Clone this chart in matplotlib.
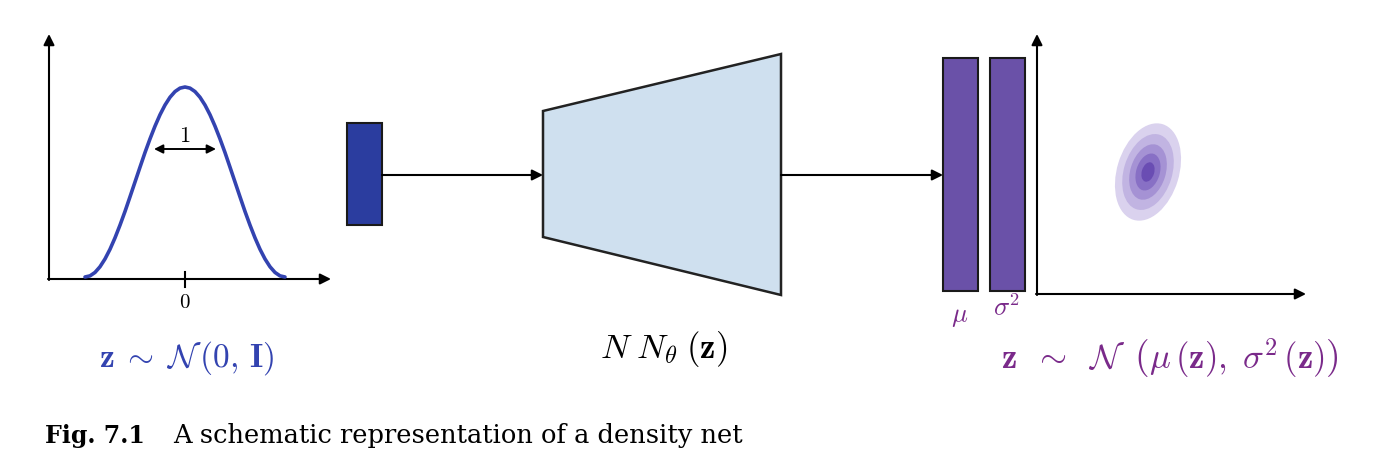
import matplotlib
matplotlib.use("Agg")
import matplotlib.pyplot as plt
from matplotlib.patches import Rectangle, Polygon, Ellipse

plt.rcParams['mathtext.fontset'] = 'cm'

# ---- data ----
curve_t = [-1.0, -0.95, -0.9, -0.85, -0.8, -0.75, -0.7, -0.65, -0.6, -0.55, -0.5,
           -0.45, -0.4, -0.35, -0.3, -0.25, -0.2, -0.15, -0.1, -0.05, 0.0,
           0.05, 0.1, 0.15, 0.2, 0.25, 0.3, 0.35, 0.4, 0.45, 0.5,
           0.55, 0.6, 0.65, 0.7, 0.75, 0.8, 0.85, 0.9, 0.95, 1.0]
curve_h = [0.0, 0.006, 0.024, 0.054, 0.095, 0.146, 0.206, 0.273, 0.345, 0.422, 0.5,
           0.578, 0.655, 0.727, 0.794, 0.854, 0.905, 0.946, 0.976, 0.994, 1.0,
           0.994, 0.976, 0.946, 0.905, 0.854, 0.794, 0.727, 0.655, 0.578, 0.5,
           0.422, 0.345, 0.273, 0.206, 0.146, 0.095, 0.054, 0.024, 0.006, 0.0]
tick_label = "0"
width_label = "1"
input_label = r"$\mathbf{z}\;\sim\;\mathcal{N}\,(0,\,\mathbf{I})$"
net_label = r"$N\;N_{\theta}\;(\mathbf{z})$"
output_label = (r"$\mathbf{z}\;\;\sim\;\;\mathcal{N}\;\;\left(\mu\,(\mathbf{z}),\;"
                r"\sigma^{2}\,(\mathbf{z})\right)$")
bar_labels = [r"$\mu$", r"$\sigma^2$"]
caption_bold = "Fig. 7.1"
caption_text = "A schematic representation of a density net"
ellipse_scales = [1.0, 0.78, 0.57, 0.38, 0.2]
ellipse_colors = ['#dad2ee', '#c1b4e2', '#a592d4', '#8870c5', '#6a4db3']

BLUE = '#3343b0'
PURPLE_TXT = '#7a2a8a'
PURPLE_BAR = '#6a51a8'

fig = plt.figure(figsize=(13.82, 4.66), dpi=100)
ax = fig.add_axes([0, 0, 1, 1])
ax.set_xlim(0, 1382)
ax.set_ylim(466, 0)
ax.axis('off')

def arrow(p_from, p_to, style='-|>', lw=1.5, ms=16):
    ax.annotate("", xy=p_to, xytext=p_from,
                arrowprops=dict(arrowstyle=style, lw=lw, color='black',
                                mutation_scale=ms, shrinkA=0, shrinkB=0))

# left panel axes
arrow((49, 280), (49, 34))
arrow((48, 279), (331, 279))
axc = fig.add_axes([85 / 1382, (466 - 277) / 466, 200 / 1382, 190 / 466])
axc.set_xlim(-1, 1)
axc.set_ylim(0, 1)
axc.axis('off')
axc.plot(curve_t, curve_h, color=BLUE, lw=2.6, clip_on=False, solid_capstyle='round')
ax.plot([185, 185], [272, 287], color='black', lw=1.5)
ax.text(185, 302, r"$%s$" % tick_label, ha='center', va='center', fontsize=15)
arrow((154, 149), (216, 149), style='<|-|>', lw=1.4, ms=13)
ax.text(185, 136, r"$%s$" % width_label, ha='center', va='center', fontsize=16)
ax.text(187, 358, input_label, ha='center', va='center', fontsize=24, color=BLUE)

# input block
ax.add_patch(Rectangle((347, 123), 35, 102, fc='#2b3d9f', ec='#1a1a1a', lw=1.5))
arrow((382, 175), (543, 175))

# network trapezoid
ax.add_patch(Polygon([(543, 111), (781, 54), (781, 295), (543, 237)],
                     closed=True, fc='#cfe0ef', ec='#222222', lw=1.8))
ax.text(664, 349, net_label, ha='center', va='center', fontsize=25, color='black')
arrow((781, 175), (943, 175))

# output bars
for x0, lab, ly in zip([943, 990], bar_labels, [316, 309]):
    ax.add_patch(Rectangle((x0, 58), 35, 233, fc=PURPLE_BAR, ec='#1a1a1a', lw=1.5))
    ax.text(x0 + 17, ly, lab, ha='center', va='center', fontsize=19, color=PURPLE_TXT)

# right panel axes
arrow((1037, 295), (1037, 34))
arrow((1036, 294), (1306, 294))
for s, c in zip(ellipse_scales, ellipse_colors):
    ax.add_patch(Ellipse((1148, 172), 62 * s, 100 * s, angle=17, fc=c, ec='none'))
ax.text(1170, 358, output_label, ha='center', va='center', fontsize=25, color=PURPLE_TXT)

# caption
ax.text(45, 443, caption_bold, fontfamily='DejaVu Serif', fontweight='bold',
        fontsize=17, va='baseline', ha='left')
ax.text(173, 443, caption_text, fontfamily='DejaVu Serif',
        fontsize=18.5, va='baseline', ha='left')

fig.savefig('out.png', dpi=100)
